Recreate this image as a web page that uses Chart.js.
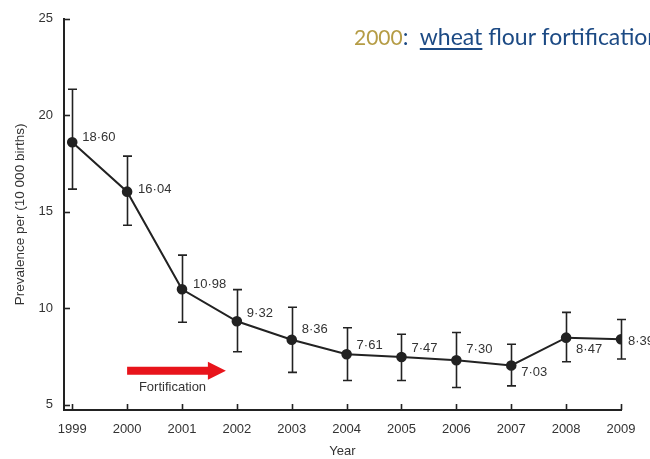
<!DOCTYPE html>
<html>
<head>
<meta charset="utf-8">
<script src="https://cdn.jsdelivr.net/npm/chart.js@4"></script>
<style>
  html, body { margin: 0; padding: 0; background: #fff; overflow: hidden; }
  #wrap { position: relative; width: 650px; height: 459px; overflow: hidden; }
  #note {
    position: absolute; left: 354px; top: 22px; white-space: nowrap;
    font-family: Lato, "Open Sans", sans-serif; font-size: 23px; color: #1c4a84;
  }
  #note .yr { color: #b59c45; font-size: 21px; }
  #note u { text-decoration-thickness: 2px; text-underline-offset: 3px; }
</style>
</head>
<body>
<div id="wrap">
  <canvas id="chart" width="650" height="459"></canvas>
  <div id="note"><span class="yr">2000</span>:&nbsp; <u>wheat</u> flour fortification</div>
</div>
<script>
// ---- data ----
const years      = [1999, 2000, 2001, 2002, 2003, 2004, 2005, 2006, 2007, 2008, 2009];
const prevalence = [18.60, 16.04, 10.98, 9.32, 8.36, 7.61, 7.47, 7.30, 7.03, 8.47, 8.39];
const ciLow      = [16.17, 14.30, 9.27, 7.74, 6.67, 6.25, 6.25, 5.89, 5.97, 7.22, 7.36];
const ciHigh     = [21.35, 17.88, 12.75, 10.96, 10.05, 8.98, 8.65, 8.74, 8.13, 9.78, 9.41];
const valueLabels = ["18·60", "16·04", "10·98", "9·32", "8·36", "7·61", "7·47", "7·30", "7·03", "8·47", "8·39"];
const yTicks     = [5, 10, 15, 20, 25];

// Fortification arrow, in data units (start year, end year, level)
const arrowFrom = 2000, arrowTo = 2001.8, arrowLevel = 6.76;

// label offsets in pixels from each point (style only)
const labelDx = [10, 11, 11, 10, 10, 10, 10, 10, 10, 10, 7];
const labelDy = [-5, -2, -5, -8, -10, -9, -9, -11, 7, 12, 2];

const INK = "#222";
const TXT = "#333";
const FONT = "Liberation Sans, Arial, sans-serif";

// Draws inward tick marks, error bars, value labels and the arrow
const extrasPlugin = {
  id: "extras",
  beforeDatasetsDraw: function (chart) {
    const ctx = chart.ctx;
    const xs = chart.scales.x, ys = chart.scales.y;
    ctx.save();
    ctx.strokeStyle = INK;
    ctx.lineWidth = 1.6;

    // inward ticks on y axis
    yTicks.forEach(function (v) {
      const py = Math.round(ys.getPixelForValue(v)) + 0.5;
      ctx.beginPath();
      ctx.moveTo(xs.left, py);
      ctx.lineTo(xs.left + 6, py);
      ctx.stroke();
    });
    // inward ticks on x axis
    years.forEach(function (yr) {
      const px = Math.round(xs.getPixelForValue(yr)) + 0.5;
      ctx.beginPath();
      ctx.moveTo(px, ys.bottom);
      ctx.lineTo(px, ys.bottom - 6);
      ctx.stroke();
    });

    // error bars
    years.forEach(function (yr, i) {
      const px = Math.round(xs.getPixelForValue(yr)) + 0.5;
      const top = ys.getPixelForValue(ciHigh[i]);
      const bot = ys.getPixelForValue(ciLow[i]);
      ctx.beginPath();
      ctx.moveTo(px, top); ctx.lineTo(px, bot);
      ctx.moveTo(px - 4.5, top); ctx.lineTo(px + 4.5, top);
      ctx.moveTo(px - 4.5, bot); ctx.lineTo(px + 4.5, bot);
      ctx.stroke();
    });

    // red arrow
    const ax0 = xs.getPixelForValue(arrowFrom);
    const ax1 = xs.getPixelForValue(arrowTo);
    const ay = ys.getPixelForValue(arrowLevel);
    ctx.fillStyle = "#e8141b";
    ctx.beginPath();
    ctx.moveTo(ax0, ay - 4);
    ctx.lineTo(ax1 - 18, ay - 4);
    ctx.lineTo(ax1 - 18, ay - 9);
    ctx.lineTo(ax1, ay);
    ctx.lineTo(ax1 - 18, ay + 9);
    ctx.lineTo(ax1 - 18, ay + 4);
    ctx.lineTo(ax0, ay + 4);
    ctx.closePath();
    ctx.fill();

    ctx.fillStyle = TXT;
    ctx.font = "13px " + FONT;
    ctx.textAlign = "center";
    ctx.textBaseline = "middle";
    ctx.fillText("Fortification", (ax0 + ax1) / 2 - 4, ay + 17);
    ctx.restore();
  },
  afterDatasetsDraw: function (chart) {
    const ctx = chart.ctx;
    const meta = chart.getDatasetMeta(0);
    ctx.save();
    ctx.fillStyle = TXT;
    ctx.font = "13px " + FONT;
    ctx.textAlign = "left";
    ctx.textBaseline = "middle";
    meta.data.forEach(function (pt, i) {
      ctx.fillText(valueLabels[i], pt.x + labelDx[i], pt.y + labelDy[i]);
    });
    ctx.restore();
  }
};

new Chart(document.getElementById("chart"), {
  type: "line",
  data: {
    datasets: [{
      data: years.map(function (yr, i) { return { x: yr, y: prevalence[i] }; }),
      borderColor: INK,
      borderWidth: 2,
      pointRadius: 4.3,
      pointBackgroundColor: INK,
      pointBorderColor: INK,
      tension: 0
    }]
  },
  options: {
    responsive: false,
    animation: false,
    layout: { padding: { top: 17, right: 29, left: 0, bottom: 0 } },
    plugins: { legend: { display: false }, tooltip: { enabled: false } },
    scales: {
      x: {
        type: "linear",
        min: 1998.85,
        max: 2009,
        afterBuildTicks: function (scale) {
          scale.ticks = years.map(function (v) { return { value: v }; });
        },
        afterFit: function (scale) { scale.height = 49; },
        grid: { display: false, drawTicks: false },
        border: { display: true, color: INK, width: 2 },
        ticks: {
          color: TXT,
          font: { family: FONT, size: 13 },
          padding: 12,
          maxRotation: 0,
          autoSkip: false,
          callback: function (v) { return String(v); }
        },
        title: {
          display: true, text: "Year", color: TXT,
          font: { family: FONT, size: 13 }, padding: { top: 6, bottom: 0 }
        }
      },
      y: {
        min: 4.72,
        max: 25,
        afterBuildTicks: function (scale) {
          scale.ticks = yTicks.map(function (v) { return { value: v }; });
        },
        afterFit: function (scale) { scale.width = 64; },
        grid: { display: false, drawTicks: false },
        border: { display: true, color: INK, width: 2 },
        ticks: {
          color: TXT,
          font: { family: FONT, size: 13 },
          padding: 11
        },
        title: {
          display: true, text: "Prevalence per (10 000 births)", color: TXT,
          font: { family: FONT, size: 13.5 }, padding: { top: 12, bottom: 0 }
        }
      }
    }
  },
  plugins: [extrasPlugin]
});
</script>
</body>
</html>
